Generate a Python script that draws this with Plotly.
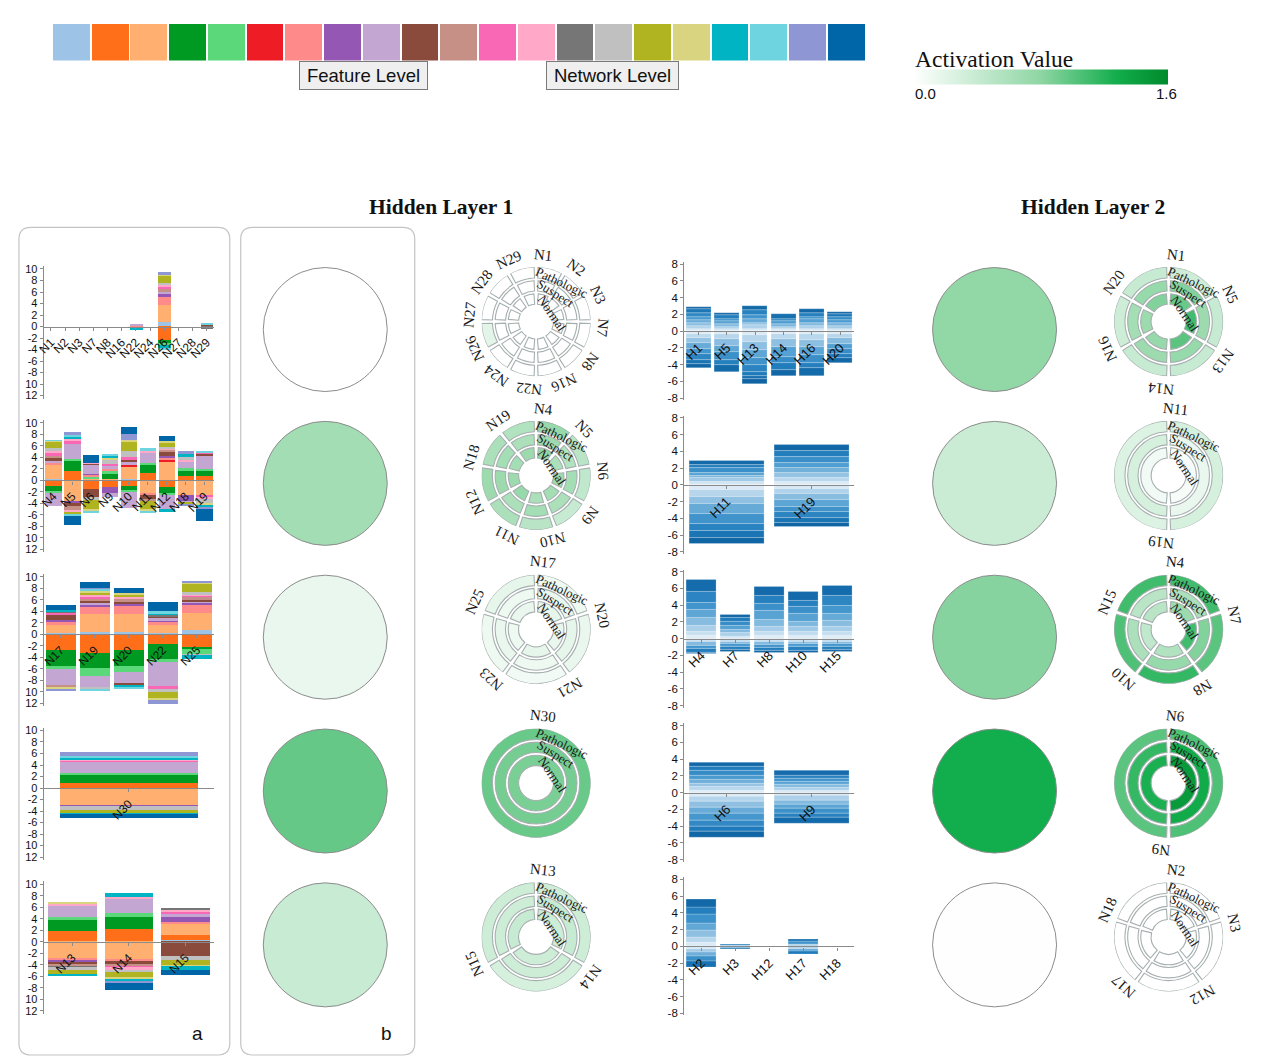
import math
import plotly.graph_objects as go

W, H = 1278, 1062
SERIF = "Liberation Serif, Times New Roman, serif"
SANS = "Liberation Sans, Arial, sans-serif"

# ---------------- feature palette (21 input features) ----------------
FEATURE_COLORS = ["#9dc3e6", "#ff6f1a", "#ffb070", "#009a22", "#5ad87a", "#ee1c25", "#ff8a8a",
                  "#9457b4", "#c4a6d2", "#8a4a3c", "#c69086", "#f868b4", "#ffa8c8", "#767676",
                  "#c0c0c0", "#b0b420", "#d8d480", "#00b4c4", "#6ed4e0", "#8e96d4", "#0066a8"]

# ---------------- feature-level contributions, hidden layer 1 ----------------
# each node: list of (feature index, signed contribution)
G1_NODES = ["N1", "N2", "N3", "N7", "N8", "N16", "N22", "N24", "N26", "N27", "N28", "N29"]
G1_SEGMENTS = [
    [], [], [], [], [], [],
    [(8, 0.5), (6, -0.35), (17, -0.35)],
    [],
    [(0, 0.8), (2, 3.0), (6, 1.4), (7, 0.4), (8, 0.4), (10, 0.6), (11, 0.3), (12, 0.3), (14, 0.3),
     (15, 1.4), (16, 0.2), (19, 0.3), (1, -2.3), (3, -0.5), (4, -0.5), (17, -0.6), (18, -0.2)],
    [], [],
    [(9, 0.3), (18, 0.2), (13, -0.5)],
]

G2_NODES = ["N4", "N5", "N6", "N9", "N10", "N11", "N12", "N18", "N19"]
G2_SEGMENTS = [
    [(0, 0.2), (2, 2.6), (6, 0.3), (8, 0.3), (9, 0.6), (10, 0.3), (11, 0.6), (12, 0.2), (14, 0.6),
     (15, 1.0), (16, 0.2), (18, 0.1), (1, -1.0), (3, -0.9), (4, -0.2), (8, -2.3)],
    [(1, 1.6), (3, 1.8), (4, 0.4), (8, 2.6), (11, 0.4), (12, 0.4), (17, 0.4), (18, 0.3), (19, 0.5),
     (2, -3.5), (7, -0.4), (9, -0.6), (10, -0.6), (12, -0.4), (15, -0.4), (18, -0.3), (20, -1.6)],
    [(2, 0.4), (4, 0.3), (6, 0.3), (7, 0.2), (8, 1.5), (9, 0.2), (12, 0.2), (20, 1.4),
     (1, -1.5), (9, -1.4), (14, -0.5), (15, -1.5), (16, -0.5), (18, -0.2)],
    [(2, 0.3), (3, 0.9), (4, 0.4), (6, 0.4), (8, 0.6), (11, 0.2), (14, 0.8), (16, 0.4), (17, 0.3),
     (18, 0.2), (1, -1.2), (7, -1.0), (8, -0.6)],
    [(0, 0.2), (2, 2.3), (5, 0.2), (8, 0.6), (9, 0.3), (11, 0.4), (14, 1.2), (15, 1.6), (16, 0.3),
     (19, 0.9), (20, 1.2), (1, -1.0), (3, -0.8), (4, -0.2), (8, -2.7)],
    [(1, 1.3), (3, 1.4), (4, 0.3), (8, 1.9), (12, 0.3), (18, 0.4),
     (2, -2.2), (6, -0.3), (9, -0.8), (10, -0.3), (15, -1.4), (16, -0.4), (18, -0.2)],
    [(2, 3.3), (5, 0.3), (6, 0.3), (7, 0.4), (9, 0.6), (10, 0.4), (12, 0.2), (14, 0.3), (15, 0.8),
     (16, 0.2), (20, 1.0), (1, -1.1), (3, -1.2), (4, -0.3), (8, -2.3), (17, -0.5)],
    [(1, 0.8), (3, 1.0), (4, 0.3), (8, 1.1), (12, 0.4), (14, 0.4), (17, 0.6), (19, 0.5),
     (2, -2.6), (7, -1.0), (8, -0.2), (15, -0.4), (19, -0.2)],
    [(1, 0.7), (3, 1.1), (4, 0.2), (8, 2.4), (9, 0.3), (11, 0.2), (18, 0.3),
     (2, -2.7), (11, -0.3), (12, -0.2), (14, -0.8), (16, -0.3), (17, -0.4), (19, -0.3), (20, -2.0)],
]

G3_NODES = ["N17", "N19", "N20", "N22", "N25"]
G3_SEGMENTS = [
    [(0, 0.3), (2, 1.5), (6, 0.3), (7, 0.4), (9, 1.0), (11, 0.3), (13, 0.1), (17, 0.3), (20, 1.0),
     (1, -2.7), (3, -2.8), (4, -0.5), (8, -2.7), (10, -0.5), (16, -0.3), (19, -0.4)],
    [(0, 0.4), (2, 3.2), (6, 1.2), (7, 0.4), (8, 0.3), (9, 0.4), (10, 0.3), (11, 0.4), (12, 0.2),
     (15, 0.4), (16, 0.4), (18, 0.3), (19, 0.2), (20, 1.0),
     (1, -3.2), (3, -2.7), (4, -1.3), (8, -2.1), (14, -0.3), (18, -0.2)],
    [(0, 0.5), (2, 3.1), (6, 1.4), (7, 0.3), (9, 0.5), (10, 0.3), (12, 0.4), (15, 0.4), (16, 0.3),
     (20, 0.8), (1, -2.7), (3, -2.8), (4, -1.1), (8, -2.0), (9, -0.2), (17, -0.4), (18, -0.2)],
    [(0, 0.3), (2, 1.5), (6, 0.3), (7, 0.4), (8, 0.3), (9, 0.4), (13, 0.1), (17, 0.4), (18, 0.3),
     (20, 1.6), (1, -1.6), (3, -2.8), (4, -0.3), (8, -4.2), (11, -0.5), (14, -0.6), (15, -1.1),
     (16, -0.3), (19, -0.6)],
    [(0, 0.7), (2, 3.1), (6, 1.4), (7, 0.3), (8, 0.2), (9, 0.3), (10, 0.6), (11, 0.2), (12, 0.2),
     (14, 0.3), (15, 1.5), (16, 0.2), (19, 0.3),
     (1, -2.3), (3, -0.3), (4, -0.8), (14, -0.2), (17, -0.6)],
]

G4_NODES = ["N30"]
G4_SEGMENTS = [
    [(1, 1.0), (3, 1.4), (4, 0.2), (8, 2.0), (11, 0.2), (12, 0.2), (17, 0.3), (18, 0.4), (19, 0.6),
     (2, -2.9), (7, -0.2), (14, -0.6), (15, -0.6), (17, -0.2), (20, -0.7)],
]

G5_NODES = ["N13", "N14", "N15"]
G5_SEGMENTS = [
    [(1, 1.8), (3, 1.9), (4, 0.5), (8, 1.9), (12, 0.4), (16, 0.4),
     (2, -2.9), (6, -0.3), (7, -0.4), (9, -0.4), (10, -0.4), (13, -0.2), (14, -0.3), (15, -0.8),
     (16, -0.1), (17, -0.2)],
    [(1, 2.2), (3, 2.1), (4, 0.7), (8, 2.5), (12, 0.3), (17, 0.6),
     (2, -3.1), (6, -0.3), (9, -0.5), (10, -0.5), (11, -0.2), (12, -0.3), (14, -0.4), (15, -1.0),
     (16, -0.3), (17, -0.2), (19, -0.4), (20, -1.2)],
    [(0, 0.2), (1, 1.0), (2, 2.0), (6, 0.2), (7, 0.8), (8, 0.7), (11, 0.3), (12, 0.2), (13, 0.4),
     (9, -2.6), (14, -0.6), (15, -0.9), (16, -0.2), (17, -0.6), (20, -0.9)],
]

FEATURE_GROUPS = [(G1_NODES, G1_SEGMENTS), (G2_NODES, G2_SEGMENTS), (G3_NODES, G3_SEGMENTS),
                  (G4_NODES, G4_SEGMENTS), (G5_NODES, G5_SEGMENTS)]
FEATURE_BAR_WIDTH = [0.9, 0.87, 0.9, 0.81, 0.86]
A_TICKVALS = list(range(-12, 11, 2))
A_TICKTEXT = ["12", "10", "-8", "-6", "-4", "-2", "0", "2", "4", "6", "8", "10"]

# ---------------- network-level contributions into hidden layer 2 ----------------
# stacked pieces, listed from the zero line outward (positive side / negative side)
H1_NODES = ["H1", "H5", "H13", "H14", "H16", "H20"]
H1_POS = [[0.3, 0.3, 0.4, 0.3, 0.4, 0.5, 0.4, 0.3], [0.3, 0.2, 0.3, 0.4, 0.3, 0.4, 0.3],
          [0.3, 0.4, 0.3, 0.5, 0.4, 0.6, 0.5], [0.2, 0.3, 0.3, 0.4, 0.3, 0.5],
          [0.3, 0.3, 0.4, 0.4, 0.3, 0.5, 0.4], [0.3, 0.3, 0.4, 0.3, 0.4, 0.4, 0.2]]
H1_NEG = [[0.3, 0.5, 0.6, 0.7, 0.6, 0.8, 0.4, 0.5], [0.4, 0.6, 0.8, 0.7, 0.9, 0.6, 0.9],
          [0.5, 0.8, 0.9, 1.0, 0.9, 0.8, 0.4, 0.4, 0.6], [0.4, 0.6, 0.9, 1.2, 0.7, 0.8, 0.8],
          [0.4, 0.7, 0.8, 0.9, 1.0, 0.6, 1.0], [0.3, 0.5, 0.7, 0.6, 0.6, 0.5, 0.6]]

H2_NODES = ["H11", "H19"]
H2_POS = [[0.4, 0.4, 0.3, 0.4, 0.5, 0.4, 0.5], [0.4, 0.5, 0.6, 0.5, 0.6, 0.7, 0.8, 0.7]]
H2_NEG = [[0.6, 0.8, 0.9, 1.1, 1.2, 0.9, 0.8, 0.7], [0.5, 0.6, 0.7, 0.8, 0.6, 0.7, 0.6, 0.5]]

H3_NODES = ["H4", "H7", "H8", "H10", "H15"]
H3_POS = [[0.4, 0.5, 0.7, 0.9, 1.0, 0.8, 1.3, 1.4], [0.3, 0.4, 0.4, 0.5, 0.5, 0.4, 0.4],
          [0.4, 0.5, 0.6, 0.8, 1.0, 0.9, 0.9, 1.1], [0.4, 0.5, 0.6, 0.6, 0.9, 0.8, 0.8, 1.0],
          [0.4, 0.5, 0.6, 0.7, 0.8, 0.9, 1.2, 1.3]]
H3_NEG = [[0.3, 0.5, 0.4, 0.4, 0.2], [0.3, 0.3, 0.4, 0.3, 0.2], [0.3, 0.4, 0.4, 0.3, 0.2],
          [0.3, 0.3, 0.4, 0.4, 0.2], [0.3, 0.3, 0.4, 0.3, 0.2]]

H4_NODES = ["H6", "H9"]
H4_POS = [[0.3, 0.4, 0.4, 0.5, 0.5, 0.5, 0.5, 0.5], [0.3, 0.3, 0.4, 0.3, 0.4, 0.4, 0.5]]
H4_NEG = [[0.5, 0.6, 0.7, 0.7, 0.8, 0.7, 0.7, 0.7], [0.4, 0.5, 0.5, 0.5, 0.6, 0.5, 0.7]]

H5_NODES = ["H2", "H3", "H12", "H17", "H18"]
H5_POS = [[0.5, 0.6, 0.8, 0.9, 1.0, 0.9, 0.9], [0.15, 0.15], [], [0.3, 0.3, 0.2], []]
H5_NEG = [[0.3, 0.4, 0.5, 0.6, 0.7], [0.2, 0.1], [], [0.3, 0.3, 0.4], []]

NETWORK_GROUPS = [(H1_NODES, H1_POS, H1_NEG), (H2_NODES, H2_POS, H2_NEG), (H3_NODES, H3_POS, H3_NEG),
                  (H4_NODES, H4_POS, H4_NEG), (H5_NODES, H5_POS, H5_NEG)]
H_TICKVALS = list(range(-8, 9, 2))
H_TICKTEXT = [str(v) for v in H_TICKVALS]

# ---------------- activations ----------------
L1_GROUP_ACT = [0.0, 0.66, 0.15, 0.96, 0.39]
L2_GROUP_ACT = [0.78, 0.38, 0.83, 1.28, 0.01]

# per-class activations of each node: (nodes, pathologic, suspect, normal)
L1_RINGS = [
    (["N1", "N2", "N3", "N7", "N8", "N16", "N22", "N24", "N26", "N27", "N28", "N29"],
     [0, 0, 0, 0, 0, 0, 0, 0, 0.2, 0, 0, 0],
     [0] * 12,
     [0] * 12),
    (["N4", "N5", "N6", "N9", "N10", "N11", "N12", "N18", "N19"],
     [0.75, 0.5, 0.45, 0.4, 0.5, 0.6, 0.7, 0.6, 0.55],
     [0.7, 0.55, 0.65, 0.6, 0.65, 0.6, 0.7, 0.65, 0.6],
     [0.8, 0.6, 0.7, 0.65, 0.6, 0.75, 0.7, 0.65, 0.7]),
    (["N17", "N20", "N21", "N23", "N25"],
     [0.12, 0.15, 0.1, 0.12, 0.18],
     [0.15, 0.18, 0.12, 0.15, 0.12],
     [0.18, 0.15, 0.18, 0.12, 0.15]),
    (["N30"], [0.95], [0.9], [0.88]),
    (["N13", "N14", "N15"], [0.35, 0.3, 0.35], [0.4, 0.35, 0.35], [0.35, 0.35, 0.4]),
]
L2_RINGS = [
    (["N1", "N5", "N13", "N14", "N16", "N20"],
     [0.35, 0.4, 0.4, 0.4, 0.35, 0.4],
     [0.85, 0.7, 0.75, 0.7, 0.65, 0.75],
     [0.95, 1.1, 1.0, 0.75, 0.7, 0.85]),
    (["N11", "N19"], [0.3, 0.25], [0.15, 0.3], [0.05, 0.1]),
    (["N4", "N7", "N8", "N10", "N15"],
     [1.1, 1.0, 1.15, 1.05, 1.1],
     [0.6, 0.85, 0.75, 0.6, 0.5],
     [0.7, 1.1, 0.55, 0.45, 0.5]),
    (["N6", "N9"], [1.05, 1.0], [1.3, 1.15], [1.45, 1.25]),
    (["N2", "N3", "N12", "N17", "N18"], [0] * 5, [0] * 5, [0] * 5),
]

ACT_MAX = 1.6
ACT_SCALE = [[0, "#ffffff"], [0.5, "#8fd6a4"], [0.8, "#12ad4c"], [1, "#008a2c"]]
BLUE_SCALE = [[0, "#eaf3fa"], [0.2, "#a3cbe7"], [0.5, "#4a9bd0"], [0.8, "#1f7bbb"], [1, "#0b5d9c"]]

# ---------------- geometry (pixels) ----------------
ROW_STEP = 155
A_X0, A_X1, A_TOP10 = 37, 208, 267       # feature-level bar panels
A_PX_PER_UNIT = 5.8
N_X0, N_X1, N_TOP8 = 681, 852, 262       # network-level bar panels
N_PX_PER_UNIT = 8.44
CIRCLE_X1, CIRCLE_X2, CIRCLE_Y0 = 320, 993, 328
RING_X1, RING_X2, RING_Y0, RING_R = 532, 1168, 320, 55


def px(x):
    return x / W


def py(y):
    return 1 - y / H


def xname(n):
    return "x" if n == 1 else f"x{n}"


def yname(n):
    return "y" if n == 1 else f"y{n}"


def xkey(n):
    return "xaxis" if n == 1 else f"xaxis{n}"


def ykey(n):
    return "yaxis" if n == 1 else f"yaxis{n}"


fig = go.Figure()
layout = {}
annotations = []
shapes = []

AXIS_COMMON = dict(showgrid=False, zeroline=False, fixedrange=True)

# ---------------- colour strip of features ----------------
fig.add_trace(go.Bar(x=list(range(len(FEATURE_COLORS))), y=[1] * len(FEATURE_COLORS), width=0.95,
                     marker=dict(color=FEATURE_COLORS, line=dict(width=0)),
                     xaxis=xname(1), yaxis=yname(1), hoverinfo="skip"))
layout[xkey(1)] = dict(domain=[px(45), px(863)], range=[-0.5, 20.5], visible=False, **AXIS_COMMON)
layout[ykey(1)] = dict(domain=[py(57), py(20)], range=[0, 1], visible=False, **AXIS_COMMON)

for label, cx, bw in [("Feature Level", 358.5, 125), ("Network Level", 608.5, 129)]:
    annotations.append(dict(x=px(cx), y=py(72.5), xref="paper", yref="paper", text=label,
                            showarrow=False, font=dict(family=SANS, size=18.5, color="#111"),
                            bgcolor="#efefef", bordercolor="#7a7a7a", borderwidth=1,
                            width=bw, height=25, xanchor="center", yanchor="middle"))

# ---------------- feature-level stacked bars ----------------
for gi, (nodes, segs) in enumerate(FEATURE_GROUPS):
    n_ax = 2 + gi
    for sign in (1, -1):
        for f in range(len(FEATURE_COLORS)):
            vals = []
            for node_segs in segs:
                s = sum(v for ff, v in node_segs if ff == f and v * sign > 0)
                vals.append(s if s != 0 else None)
            if all(v is None for v in vals):
                continue
            fig.add_trace(go.Bar(x=nodes, y=vals, width=FEATURE_BAR_WIDTH[gi],
                                 marker=dict(color=FEATURE_COLORS[f], line=dict(width=0)),
                                 xaxis=xname(n_ax), yaxis=yname(n_ax), hoverinfo="skip"))
    top10 = A_TOP10 + gi * ROW_STEP
    zero_px = top10 + 10 * A_PX_PER_UNIT
    dom_top = top10 - 0.5 * A_PX_PER_UNIT
    dom_bot = top10 + 22.5 * A_PX_PER_UNIT
    layout[xkey(n_ax)] = dict(domain=[px(A_X0), px(A_X1)], range=[-0.5, len(nodes) - 0.5],
                              anchor="free", position=py(zero_px), showline=True,
                              linecolor="#8a8a8a", linewidth=1.3, ticks="outside", ticklen=3,
                              tickcolor="#8a8a8a", tickangle=-45, tickmode="array",
                              tickvals=nodes, ticktext=nodes,
                              tickfont=dict(family=SANS, size=12, color="#111"), **AXIS_COMMON)
    layout[ykey(n_ax)] = dict(domain=[py(dom_bot), py(dom_top)], range=[-12.5, 10.5],
                              anchor=xname(n_ax), showline=True, linecolor="#8a8a8a",
                              linewidth=1.3, ticks="outside", ticklen=3, tickcolor="#8a8a8a",
                              tickmode="array", tickvals=A_TICKVALS, ticktext=A_TICKTEXT,
                              tickfont=dict(family=SANS, size=11, color="#111"), **AXIS_COMMON)

# ---------------- network-level stacked bars ----------------
for gi, (nodes, pos, neg) in enumerate(NETWORK_GROUPS):
    n_ax = 7 + gi
    for sign, pieces in ((1, pos), (-1, neg)):
        depth = max(len(p) for p in pieces)
        totals = [sum(p) for p in pieces]
        for k in range(depth):
            vals, shade = [], []
            for p, tot in zip(pieces, totals):
                if k < len(p):
                    vals.append(sign * p[k])
                    shade.append((sum(p[:k]) + p[k] / 2) / tot)
                else:
                    vals.append(None)
                    shade.append(0)
            fig.add_trace(go.Bar(x=nodes, y=vals, width=0.88,
                                 marker=dict(color=shade, colorscale=BLUE_SCALE, cmin=0, cmax=1,
                                             line=dict(color="rgba(255,255,255,0.55)", width=0.4)),
                                 xaxis=xname(n_ax), yaxis=yname(n_ax), hoverinfo="skip"))
    top8 = N_TOP8 + gi * ROW_STEP
    zero_px = top8 + 8 * N_PX_PER_UNIT
    layout[xkey(n_ax)] = dict(domain=[px(N_X0), px(N_X1)], range=[-0.5, len(nodes) - 0.5],
                              anchor="free", position=py(zero_px), showline=True,
                              linecolor="#8a8a8a", linewidth=1.3, ticks="outside", ticklen=3,
                              tickcolor="#8a8a8a", tickangle=-45, tickmode="array",
                              tickvals=nodes, ticktext=nodes,
                              tickfont=dict(family=SANS, size=13, color="#111"), **AXIS_COMMON)
    layout[ykey(n_ax)] = dict(domain=[py(top8 + 16.25 * N_PX_PER_UNIT),
                                      py(top8 - 0.25 * N_PX_PER_UNIT)],
                              range=[-8.25, 8.25], anchor=xname(n_ax), showline=True,
                              linecolor="#8a8a8a", linewidth=1.3, ticks="outside", ticklen=3,
                              tickcolor="#8a8a8a", tickmode="array", tickvals=H_TICKVALS,
                              ticktext=H_TICKTEXT,
                              tickfont=dict(family=SANS, size=11.5, color="#111"), **AXIS_COMMON)

# ---------------- group activation circles ----------------
rows = list(range(5))
for n_ax, cx, acts, show in ((12, CIRCLE_X1, L1_GROUP_ACT, True), (13, CIRCLE_X2, L2_GROUP_ACT, False)):
    marker = dict(size=124, color=acts, colorscale=ACT_SCALE, cmin=0, cmax=ACT_MAX,
                  line=dict(color="#8c8c8c", width=1), showscale=show)
    if show:
        marker["colorbar"] = dict(orientation="h", x=px((912 + 1167) / 2), xanchor="center",
                                  y=py(73.5), yanchor="middle", len=255, lenmode="pixels",
                                  thickness=15, showticklabels=False, ticks="", outlinewidth=0,
                                  xpad=0, ypad=0)
    fig.add_trace(go.Scatter(x=[0] * 5, y=rows, mode="markers", marker=marker, cliponaxis=False,
                             xaxis=xname(n_ax), yaxis=yname(n_ax), hoverinfo="skip"))
    layout[xkey(n_ax)] = dict(domain=[px(cx - 50), px(cx + 50)], range=[-1, 1], visible=False,
                              **AXIS_COMMON)
    layout[ykey(n_ax)] = dict(domain=[py(CIRCLE_Y0 + 4.5 * ROW_STEP), py(CIRCLE_Y0 - 0.5 * ROW_STEP)],
                              range=[4.5, -0.5], visible=False, anchor=xname(n_ax), **AXIS_COMMON)

# ---------------- class rings ----------------
RING_BANDS = [(0.80, 0.20), (0.56, 0.19), (0.32, 0.19)]   # pathologic, suspect, normal
GAP_PX = 3.6
polar_idx = 0


def add_ring(cx, cy, nodes, path_vals, susp_vals, norm_vals):
    global polar_idx
    polar_idx += 1
    name = "polar" if polar_idx == 1 else f"polar{polar_idx}"
    n = len(nodes)
    step = 360 / n
    theta = [step * (k + 0.5) for k in range(n)]
    for (base, thick), vals in zip(RING_BANDS, (path_vals, susp_vals, norm_vals)):
        r_mid = (base + thick / 2) * RING_R
        gap = 0 if n == 1 else math.degrees(GAP_PX / r_mid)
        fig.add_trace(go.Barpolar(r=[thick] * n, base=[base] * n, theta=theta, width=[step - gap] * n,
                                  marker=dict(color=vals, colorscale=ACT_SCALE, cmin=0, cmax=ACT_MAX,
                                              line=dict(color="#a6afaf", width=1.1)),
                                  subplot=name, hoverinfo="skip"))
    layout[name] = dict(domain=dict(x=[px(cx - RING_R), px(cx + RING_R)],
                                    y=[py(cy + RING_R), py(cy - RING_R)]),
                        radialaxis=dict(range=[0, 1], visible=False, showgrid=False),
                        angularaxis=dict(visible=False, rotation=90, direction="clockwise",
                                         showgrid=False),
                        bgcolor="rgba(0,0,0,0)", barmode="overlay", hole=0)
    # node names around the ring
    for k, node in enumerate(nodes):
        ang = step * k + 6
        a = math.radians(ang)
        rr = RING_R * 1.23
        tangle = ang if ang <= 180 else ang - 360
        annotations.append(dict(x=px(cx + rr * math.sin(a)), y=py(cy - rr * math.cos(a)),
                                xref="paper", yref="paper", text=node, showarrow=False,
                                textangle=tangle, font=dict(family=SERIF, size=15, color="#1a1a1a"),
                                xanchor="center", yanchor="middle"))
    # class names inside the first sector
    for cname, ang, rf, tangle in (("Pathologic", 33, 0.86, 25), ("Suspect", 35, 0.63, 32),
                                   ("Normal", 63, 0.33, 56)):
        a = math.radians(ang)
        annotations.append(dict(x=px(cx + rf * RING_R * math.sin(a)),
                                y=py(cy - rf * RING_R * math.cos(a)),
                                xref="paper", yref="paper", text=cname, showarrow=False,
                                textangle=tangle, font=dict(family=SERIF, size=13, color="#1a1a1a"),
                                xanchor="center", yanchor="middle"))


for i, ring in enumerate(L1_RINGS):
    add_ring(RING_X1, RING_Y0 + i * ROW_STEP, *ring)
for i, ring in enumerate(L2_RINGS):
    add_ring(RING_X2, RING_Y0 + i * ROW_STEP, *ring)

# ---------------- panel frames, titles, colour legend text ----------------


def rounded_rect(x0, y0, x1, y1, r):
    rx, ry = r / W, r / H
    X0, X1, Y0, Y1 = px(x0), px(x1), py(y0), py(y1)
    return (f"M {X0 + rx},{Y0} L {X1 - rx},{Y0} Q {X1},{Y0} {X1},{Y0 - ry} "
            f"L {X1},{Y1 + ry} Q {X1},{Y1} {X1 - rx},{Y1} L {X0 + rx},{Y1} "
            f"Q {X0},{Y1} {X0},{Y1 + ry} L {X0},{Y0 - ry} Q {X0},{Y0} {X0 + rx},{Y0} Z")


for (x0, x1) in ((12, 224), (235, 410)):
    shapes.append(dict(type="path", xref="paper", yref="paper", path=rounded_rect(x0, 225, x1, 1059, 12),
                       line=dict(color="#c4c4c4", width=1.2), fillcolor="rgba(0,0,0,0)", layer="below"))

for txt, x in (("a", 192), ("b", 382)):
    annotations.append(dict(x=px(x), y=py(1037), xref="paper", yref="paper", text=txt, showarrow=False,
                            font=dict(family=SANS, size=19, color="#111"), xanchor="center",
                            yanchor="middle"))

for txt, x in (("Hidden Layer 1", 436), ("Hidden Layer 2", 1092)):
    annotations.append(dict(x=px(x), y=py(205), xref="paper", yref="paper", text=f"<b>{txt}</b>",
                            showarrow=False, font=dict(family=SERIF, size=21.5, color="#111"),
                            xanchor="center", yanchor="middle"))

annotations.append(dict(x=px(911), y=py(55), xref="paper", yref="paper", text="Activation Value",
                        showarrow=False, font=dict(family=SERIF, size=23.5, color="#111"),
                        xanchor="left", yanchor="middle"))
annotations.append(dict(x=px(911), y=py(90), xref="paper", yref="paper", text="0.0", showarrow=False,
                        font=dict(family=SANS, size=15, color="#111"), xanchor="left", yanchor="middle"))
annotations.append(dict(x=px(1178), y=py(90), xref="paper", yref="paper", text=f"{ACT_MAX:.1f}",
                        showarrow=False, font=dict(family=SANS, size=15, color="#111"),
                        xanchor="right", yanchor="middle"))

fig.update_layout(width=W, height=H, margin=dict(l=0, r=0, t=0, b=0), paper_bgcolor="white",
                  plot_bgcolor="rgba(0,0,0,0)", showlegend=False, barmode="relative", bargap=0,
                  annotations=annotations, shapes=shapes, font=dict(family=SANS), **layout)

fig.write_html("out.html")
